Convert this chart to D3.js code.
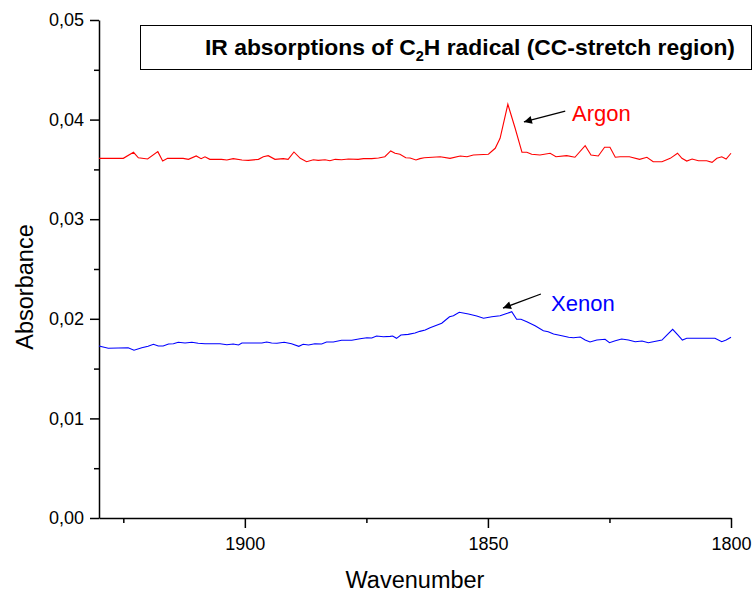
<!DOCTYPE html>
<html>
<head>
<meta charset="utf-8">
<script src="https://cdn.jsdelivr.net/npm/d3@7"></script>
<style>
  body { margin:0; background:#fff; }
  svg { font-family: Arial, "Liberation Sans", sans-serif; }
</style>
</head>
<body>
<div class="chart"></div>
<script>
// wavenumber (cm-1) and absorbance
const argonWn = [1930.0,1925.0,1922.9,1921.9,1920.0,1917.9,1916.9,1915.9,1912.7,1911.6,1910.0,1909.0,1908.2,1907.2,1904.8,1903.7,1902.4,1900.6,1899.3,1897.2,1896.2,1895.2,1893.8,1892.1,1891.1,1889.9,1888.6,1887.3,1885.9,1884.9,1883.5,1882.5,1881.4,1880.1,1878.7,1876.7,1875.6,1873.9,1872.5,1871.2,1870.0,1869.1,1868.1,1866.9,1866.0,1864.8,1864.0,1863.1,1859.8,1857.8,1855.7,1854.3,1853.0,1849.9,1848.5,1847.5,1845.9,1844.4,1843.0,1842.0,1841.0,1839.3,1837.2,1836.0,1833.8,1832.1,1830.0,1828.8,1827.3,1826.0,1824.9,1823.8,1822.8,1820.9,1818.8,1817.3,1816.0,1814.2,1812.5,1811.0,1810.1,1809.1,1808.0,1806.7,1805.0,1803.9,1802.9,1801.9,1801.0,1800.0];
const argonAbs = [0.03611,0.03611,0.03672,0.03617,0.03604,0.03678,0.03584,0.03611,0.03611,0.03601,0.03635,0.03608,0.03627,0.03601,0.03601,0.03594,0.03608,0.03594,0.03591,0.03601,0.03627,0.03638,0.03601,0.03608,0.03601,0.03675,0.03611,0.03577,0.03597,0.03591,0.03597,0.03587,0.03601,0.03597,0.03604,0.03601,0.03608,0.03608,0.03614,0.03627,0.03685,0.03662,0.03652,0.03617,0.03614,0.03594,0.03608,0.03617,0.03627,0.03611,0.03635,0.03627,0.03645,0.03652,0.03712,0.03812,0.04154,0.03913,0.03672,0.03672,0.03652,0.03645,0.03662,0.03627,0.03638,0.03622,0.03738,0.03645,0.03635,0.03722,0.03722,0.03622,0.03627,0.03627,0.03601,0.03622,0.03577,0.03577,0.03611,0.03662,0.03611,0.03584,0.03604,0.03587,0.03587,0.03571,0.03611,0.03627,0.03604,0.03662];

const xenonWn = [1930.0,1928.1,1924.0,1922.8,1921.2,1919.9,1918.8,1917.8,1916.8,1915.7,1914.7,1913.7,1912.3,1910.9,1909.6,1908.2,1905.1,1903.7,1902.4,1901.3,1900.6,1896.5,1895.5,1894.5,1893.4,1891.9,1890.4,1888.9,1888.0,1886.9,1885.6,1884.2,1883.2,1881.8,1880.1,1878.0,1876.3,1874.9,1873.9,1872.9,1871.5,1870.1,1869.6,1868.8,1867.9,1866.4,1865.0,1864.0,1862.9,1861.9,1859.5,1857.9,1857.1,1855.9,1854.0,1852.3,1850.9,1849.2,1847.5,1846.0,1845.1,1844.1,1843.2,1842.0,1840.3,1838.6,1837.6,1836.5,1834.8,1833.4,1832.4,1831.0,1830.0,1829.0,1827.6,1825.9,1825.0,1823.8,1822.5,1821.1,1819.7,1818.3,1817.0,1816.0,1814.2,1813.2,1812.0,1810.9,1810.0,1809.1,1803.3,1801.9,1801.0,1800.0];
const xenonAbs = [0.01727,0.01704,0.01710,0.01684,0.01710,0.01724,0.01744,0.01727,0.01727,0.01747,0.01750,0.01764,0.01757,0.01764,0.01754,0.01750,0.01750,0.01740,0.01747,0.01737,0.01757,0.01757,0.01767,0.01757,0.01754,0.01764,0.01750,0.01724,0.01744,0.01737,0.01750,0.01747,0.01767,0.01767,0.01784,0.01784,0.01800,0.01810,0.01807,0.01827,0.01820,0.01824,0.01827,0.01804,0.01837,0.01844,0.01857,0.01874,0.01888,0.01911,0.01955,0.02021,0.02031,0.02065,0.02048,0.02028,0.02005,0.02021,0.02031,0.02055,0.02071,0.01995,0.01995,0.01971,0.01931,0.01880,0.01870,0.01847,0.01830,0.01814,0.01810,0.01817,0.01787,0.01767,0.01787,0.01794,0.01760,0.01780,0.01797,0.01787,0.01770,0.01777,0.01760,0.01770,0.01787,0.01837,0.01895,0.01837,0.01787,0.01804,0.01804,0.01770,0.01787,0.01814];

const xMajor = [1900,1850,1800];
const xMinor = [1925,1875,1825];
const yMajor = [0,0.01,0.02,0.03,0.04,0.05];
const yMinor = [0.005,0.015,0.025,0.035,0.045];

// label text, anchor (wn, abs), arrow from -> to
const labels = [
  { name:"Argon", color:"#ff0000", at:[1832.7,0.03986], from:[1834.1,0.04086], to:[1842.6,0.03976] },
  { name:"Xenon", color:"#0000ff", at:[1837.0,0.02078], from:[1839.1,0.02249], to:[1846.9,0.02108] }
];

const W = 753, H = 594;
const margin = { top:20, left:99, right:22, bottom:76 };

const svg = d3.select(".chart").append("svg")
  .attr("width", W).attr("height", H);

const x = d3.scaleLinear().domain([1930,1800]).range([margin.left, W - margin.right]);
const y = d3.scaleLinear().domain([0,0.05]).range([H - margin.bottom, margin.top]);

const comma = d3.formatLocale({ decimal:",", thousands:".", grouping:[3], currency:["",""] }).format(".2f");

// minor ticks first, then major axis on top
svg.append("g")
  .attr("transform", `translate(0,${y(0)})`)
  .call(d3.axisBottom(x).tickValues(xMinor).tickSize(5).tickFormat(""))
  .call(g => g.select(".domain").remove());
svg.append("g")
  .attr("transform", `translate(${x(1930)},0)`)
  .call(d3.axisLeft(y).tickValues(yMinor).tickSize(5).tickFormat(""))
  .call(g => g.select(".domain").remove());

const xAxis = svg.append("g")
  .attr("transform", `translate(0,${y(0)})`)
  .call(d3.axisBottom(x).tickValues(xMajor).tickSize(10).tickSizeOuter(0).tickPadding(9).tickFormat(d3.format("d")));

const yAxis = svg.append("g")
  .attr("transform", `translate(${x(1930)},0)`)
  .call(d3.axisLeft(y).tickValues(yMajor).tickSize(9).tickSizeOuter(0).tickPadding(6).tickFormat(comma));

svg.selectAll(".tick line").attr("stroke","#000").attr("stroke-width",1.5);
svg.selectAll(".domain").attr("stroke","#000").attr("stroke-width",1.5);
svg.selectAll(".tick text").attr("fill","#000").style("font-size","18px");

// spectra
const line = d3.line().x(d => x(d[0])).y(d => y(d[1]));
const series = [
  { wn:argonWn, abs:argonAbs, color:"#ff0000" },
  { wn:xenonWn, abs:xenonAbs, color:"#0000ff" }
];
svg.selectAll("path.spec").data(series).enter().append("path")
  .attr("class","spec")
  .attr("fill","none")
  .attr("stroke", d => d.color)
  .attr("stroke-width",1.1)
  .attr("d", d => line(d.wn.map((w,i) => [w, d.abs[i]])));

// arrows + labels
svg.append("defs").append("marker")
  .attr("id","head").attr("viewBox","0 0 10 10")
  .attr("refX",10).attr("refY",5)
  .attr("markerWidth",10).attr("markerHeight",8)
  .attr("markerUnits","userSpaceOnUse")
  .attr("orient","auto")
  .append("path").attr("d","M0,0L10,5L0,10z").attr("fill","#000");

labels.forEach(l => {
  svg.append("line")
    .attr("x1", x(l.from[0])).attr("y1", y(l.from[1]))
    .attr("x2", x(l.to[0])).attr("y2", y(l.to[1]))
    .attr("stroke","#000").attr("stroke-width",1.3)
    .attr("marker-end","url(#head)");
  svg.append("text")
    .attr("x", x(l.at[0])).attr("y", y(l.at[1]))
    .attr("fill", l.color).style("font-size","22px")
    .text(l.name);
});

// title box
const tb = svg.append("g");
tb.append("rect").attr("x",140.5).attr("y",25.5).attr("width",611).attr("height",44)
  .attr("fill","#fff").attr("stroke","#000").attr("stroke-width",1);
const title = tb.append("text").attr("x",205).attr("y",55)
  .style("font-size","22px").style("font-weight","bold")
  .attr("textLength",530).attr("lengthAdjust","spacingAndGlyphs");
title.append("tspan").text("IR absorptions of C");
title.append("tspan").attr("dy",6).style("font-size","14px").text("2");
title.append("tspan").attr("dy",-6).text("H radical (CC-stretch region)");

// axis titles
svg.append("text").attr("x", (x(1930)+x(1800))/2).attr("y", 588)
  .attr("text-anchor","middle").style("font-size","23.5px").text("Wavenumber");
svg.append("text")
  .attr("transform", `translate(33,${y(0.025)+18}) rotate(-90)`)
  .attr("text-anchor","middle").style("font-size","23.5px").text("Absorbance");
</script>
</body>
</html>
